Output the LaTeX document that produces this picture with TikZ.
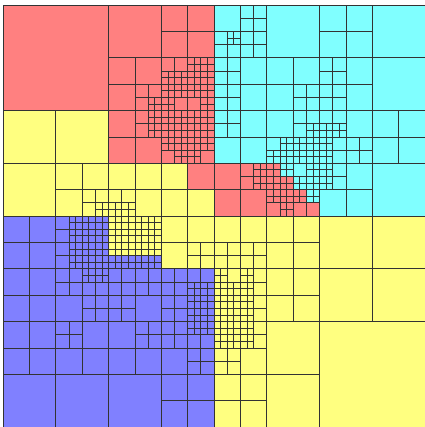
\documentclass[tikz,border=0pt]{standalone}
\definecolor{cR}{HTML}{FF8080}
\definecolor{cC}{HTML}{80FFFF}
\definecolor{cY}{HTML}{FFFF80}
\definecolor{cB}{HTML}{8080FF}
\tikzset{gl/.style={draw=black!80,line width=0.7pt}}
\newcommand\ALLCELLS{%
% J=0
\QC{R}{0}{0}{16}
\QC{R}{16}{0}{8}
\QC{R}{24}{0}{4}\QC{R}{28}{0}{4}\QC{R}{24}{4}{4}\QC{R}{28}{4}{4}
\QC{C}{32}{0}{4}
\QC{C}{36}{0}{2}\QC{C}{38}{0}{2}\QC{C}{36}{2}{2}\QC{C}{38}{2}{2}
\QC{C}{32}{4}{2}\QF{C}{34}{4}{2}{2}\QC{C}{32}{6}{2}\QC{C}{34}{6}{2}
\QC{C}{36}{4}{2}\QC{C}{38}{4}{2}\QC{C}{36}{6}{2}\QC{C}{38}{6}{2}
\QC{C}{40}{0}{8}
\QC{C}{48}{0}{4}\QC{C}{52}{0}{4}\QC{C}{48}{4}{4}\QC{C}{52}{4}{4}
\QC{C}{56}{0}{8}
% J=1
\QC{R}{16}{8}{4}\QC{R}{20}{8}{4}\QC{R}{16}{12}{4}
\QC{R}{20}{12}{2}\QC{R}{22}{12}{2}\QC{R}{20}{14}{2}\QF{R}{22}{14}{2}{2}
\QC{R}{24}{8}{2}\QC{R}{26}{8}{2}\QF{R}{28}{8}{4}{2}
\QF{R}{24}{10}{8}{2}\QF{R}{24}{12}{8}{2}
\QF{R}{24}{14}{2}{2}\QC{R}{26}{14}{2}\QC{R}{28}{14}{2}\QF{R}{30}{14}{2}{2}
\QC{C}{32}{8}{2}\QC{C}{34}{8}{2}\QC{C}{32}{10}{2}\QC{C}{34}{10}{2}
\QC{C}{32}{12}{2}\QC{C}{34}{12}{2}\QC{C}{32}{14}{2}\QC{C}{34}{14}{2}
\QC{C}{36}{8}{4}\QC{C}{36}{12}{4}
\QC{C}{40}{8}{4}\QC{C}{44}{8}{4}\QC{C}{40}{12}{4}
\QC{C}{44}{12}{2}\QC{C}{46}{12}{2}\QC{C}{44}{14}{2}\QC{C}{46}{14}{2}
\QC{C}{48}{8}{2}\QC{C}{50}{8}{2}\QC{C}{48}{10}{2}\QC{C}{50}{10}{2}\QC{C}{52}{8}{4}
\QC{C}{48}{12}{2}\QC{C}{50}{12}{2}\QC{C}{48}{14}{2}\QC{C}{50}{14}{2}\QC{C}{52}{12}{4}
\QC{C}{56}{8}{8}
% J=2
\QC{Y}{0}{16}{8}\QC{Y}{8}{16}{8}
\QC{R}{16}{16}{4}\QC{R}{20}{16}{2}\QC{R}{20}{18}{2}\QF{R}{22}{16}{2}{4}
\QC{R}{16}{20}{4}\QC{R}{20}{20}{4}
\QF{R}{24}{16}{8}{6}\QC{R}{24}{22}{2}\QF{R}{26}{22}{4}{2}\QC{R}{30}{22}{2}
\QC{C}{32}{16}{2}\QC{C}{34}{16}{2}\QC{C}{32}{18}{2}\QC{C}{34}{18}{2}
\QC{C}{36}{16}{4}\QC{C}{32}{20}{4}\QC{C}{36}{20}{4}
\QC{C}{40}{16}{4}\QC{C}{44}{16}{2}\QC{C}{44}{18}{2}
\QC{C}{46}{16}{2}\QC{C}{48}{16}{2}\QC{C}{50}{16}{2}\QF{C}{46}{18}{6}{2}
\QC{C}{52}{16}{4}\QC{C}{52}{20}{2}\QC{C}{54}{20}{2}\QC{C}{52}{22}{2}\QC{C}{54}{22}{2}
\QC{C}{56}{16}{4}\QC{C}{60}{16}{4}\QC{C}{56}{20}{4}\QC{C}{60}{20}{4}
\QC{C}{40}{20}{2}\QF{C}{42}{20}{8}{2}\QC{C}{50}{20}{2}\QF{C}{40}{22}{10}{2}\QC{C}{50}{22}{2}
% J=3
\QC{Y}{0}{24}{8}
\QC{Y}{8}{24}{4}\QC{Y}{12}{24}{4}\QC{Y}{8}{28}{4}
\QC{Y}{12}{28}{2}\QC{Y}{14}{28}{2}\QC{Y}{12}{30}{2}\QF{Y}{14}{30}{2}{2}
\QC{Y}{16}{24}{4}\QC{Y}{20}{24}{4}\QC{Y}{16}{28}{2}\QC{Y}{18}{28}{2}\QF{Y}{16}{30}{4}{2}\QC{Y}{20}{28}{4}
\QC{Y}{24}{24}{4}\QC{R}{28}{24}{4}\QC{Y}{24}{28}{4}\QC{Y}{28}{28}{4}
\QC{R}{32}{24}{4}\QC{R}{36}{24}{2}\QC{R}{36}{26}{2}\QF{R}{38}{24}{2}{4}\QC{R}{32}{28}{4}\QC{R}{36}{28}{4}
\QF{R}{40}{24}{2}{2}\QF{C}{42}{24}{2}{2}\QC{C}{44}{24}{2}\QF{C}{46}{24}{2}{2}
\QF{R}{40}{26}{4}{2}\QF{C}{44}{26}{4}{2}
\QF{C}{48}{24}{2}{2}\QC{C}{50}{24}{2}\QF{C}{48}{26}{2}{2}\QC{C}{50}{26}{2}
\QC{C}{52}{24}{4}\QC{C}{52}{28}{4}\QC{C}{48}{28}{4}\QC{C}{56}{24}{8}
\QF{R}{40}{28}{6}{2}\QF{C}{46}{28}{2}{2}
\QC{R}{40}{30}{2}\QF{R}{42}{30}{2}{2}\QC{R}{44}{30}{2}\QC{R}{46}{30}{2}
% J=4
\QC{B}{0}{32}{4}\QC{B}{4}{32}{4}\QC{B}{0}{36}{4}\QC{B}{4}{36}{4}
\QC{B}{8}{32}{2}\QC{B}{8}{34}{2}\QC{B}{8}{36}{2}\QC{B}{8}{38}{2}\QF{B}{10}{32}{6}{8}
\QF{Y}{16}{32}{8}{6}\QF{B}{16}{38}{8}{2}
\QC{Y}{24}{32}{4}\QC{Y}{28}{32}{4}\QC{Y}{24}{36}{4}
\QC{Y}{28}{36}{2}\QC{Y}{30}{36}{2}\QC{Y}{28}{38}{2}\QC{Y}{30}{38}{2}
\QC{Y}{32}{32}{4}\QC{Y}{36}{32}{4}\QC{Y}{32}{36}{2}\QC{Y}{34}{36}{2}\QC{Y}{32}{38}{2}\QC{Y}{34}{38}{2}
\QC{Y}{36}{36}{2}\QC{Y}{38}{36}{2}\QC{Y}{36}{38}{2}\QC{Y}{38}{38}{2}
\QC{Y}{40}{32}{4}\QC{Y}{44}{32}{4}\QC{Y}{40}{36}{4}\QC{Y}{44}{36}{4}
\QC{Y}{48}{32}{8}\QC{Y}{56}{32}{8}
% J=5
\QC{B}{0}{40}{4}\QC{B}{4}{40}{4}\QC{B}{0}{44}{4}\QC{B}{4}{44}{4}
\QC{B}{8}{40}{2}\QC{B}{10}{40}{2}\QC{B}{8}{42}{2}\QC{B}{10}{42}{2}
\QF{B}{12}{40}{4}{2}\QC{B}{12}{42}{2}\QC{B}{14}{42}{2}
\QC{B}{16}{40}{2}\QC{B}{18}{40}{2}\QC{B}{16}{42}{2}\QC{B}{18}{42}{2}
\QC{B}{8}{44}{4}
\QC{B}{12}{44}{2}\QC{B}{14}{44}{2}\QC{B}{12}{46}{2}\QC{B}{14}{46}{2}
\QC{B}{16}{44}{2}\QC{B}{18}{44}{2}\QC{B}{16}{46}{2}\QC{B}{18}{46}{2}
\QC{B}{20}{40}{2}\QC{B}{22}{40}{2}\QC{B}{20}{42}{2}\QC{B}{22}{42}{2}\QC{B}{20}{44}{4}
\QC{B}{24}{40}{2}\QC{B}{26}{40}{2}\QC{B}{24}{42}{2}\QC{B}{26}{42}{2}
\QC{B}{24}{44}{2}\QC{B}{26}{44}{2}\QC{B}{24}{46}{2}\QC{B}{26}{46}{2}
\QC{B}{28}{40}{2}\QC{B}{30}{40}{2}\QF{B}{28}{42}{4}{8}\QC{B}{28}{50}{2}\QC{B}{30}{50}{2}
\QF{Y}{32}{40}{2}{2}\QC{Y}{34}{40}{2}\QF{Y}{36}{40}{2}{2}
\QF{Y}{32}{42}{6}{10}
\QC{Y}{38}{40}{2}\QC{Y}{38}{42}{2}\QC{Y}{38}{44}{2}\QC{Y}{38}{46}{2}\QC{Y}{38}{48}{2}\QC{Y}{38}{50}{2}
\QC{Y}{40}{40}{4}\QC{Y}{44}{40}{4}\QC{Y}{40}{44}{4}\QC{Y}{44}{44}{4}
\QC{Y}{48}{40}{8}\QC{Y}{56}{40}{8}
% J=6,7
\QC{B}{0}{48}{4}\QC{B}{4}{48}{4}\QC{B}{0}{52}{4}\QC{B}{4}{52}{4}
\QC{B}{8}{48}{2}\QC{B}{10}{48}{2}\QC{B}{8}{50}{2}\QC{B}{10}{50}{2}
\QC{B}{12}{48}{4}\QC{B}{16}{48}{4}\QC{B}{8}{52}{4}\QC{B}{12}{52}{4}\QC{B}{16}{52}{4}
\QC{B}{20}{48}{2}\QC{B}{22}{48}{2}\QC{B}{20}{50}{2}\QC{B}{22}{50}{2}
\QC{B}{24}{48}{2}\QC{B}{26}{48}{2}\QC{B}{24}{50}{2}\QC{B}{26}{50}{2}
\QC{B}{20}{52}{4}\QC{B}{24}{52}{4}
\QC{B}{28}{52}{2}\QC{B}{30}{52}{2}\QC{B}{28}{54}{2}\QC{B}{30}{54}{2}
\QC{Y}{32}{52}{2}\QC{Y}{34}{52}{2}\QC{Y}{32}{54}{2}\QC{Y}{34}{54}{2}\QC{Y}{36}{52}{4}
\QC{B}{0}{56}{8}\QC{B}{8}{56}{8}\QC{B}{16}{56}{8}
\QC{B}{24}{56}{4}\QC{B}{28}{56}{4}\QC{B}{24}{60}{4}\QC{B}{28}{60}{4}
\QC{Y}{32}{56}{4}\QC{Y}{36}{56}{4}\QC{Y}{32}{60}{4}\QC{Y}{36}{60}{4}
\QC{Y}{40}{48}{8}\QC{Y}{40}{56}{8}\QC{Y}{48}{48}{16}
}
\begin{document}
\begin{tikzpicture}[x=1pt,y=1pt]
\useasboundingbox (0,0) rectangle (424,427);
\fill[white] (0,0) rectangle (424,427);
\begin{scope}[shift={(3pt,422pt)},x=6.594pt,y=-6.594pt]
\newcommand\QC[4]{\fill[c#1] (#2,#3) rectangle ++(#4,#4);}
\newcommand\QF[5]{\fill[c#1] (#2,#3) rectangle ++(#4,#5);}
\ALLCELLS
\renewcommand\QC[4]{\draw[gl] (#2,#3) rectangle ++(#4,#4);}
\renewcommand\QF[5]{%
  \foreach \k in {0,...,#4}{\draw[gl] ({#2+\k},#3) -- ++(0,#5);}%
  \foreach \k in {0,...,#5}{\draw[gl] (#2,{#3+\k}) -- ++(#4,0);}}
\ALLCELLS
\end{scope}
\end{tikzpicture}
\end{document}
